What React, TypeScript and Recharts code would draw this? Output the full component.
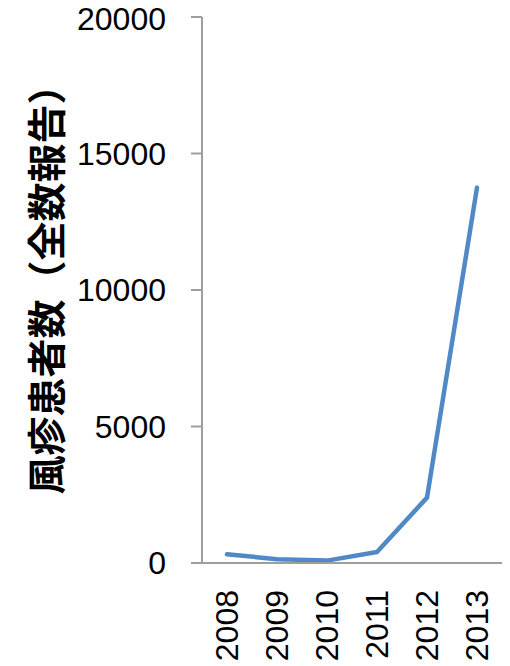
import { LineChart, Line, XAxis, YAxis, Label } from "recharts";

// 風疹の年別報告数
const years = ["2008", "2009", "2010", "2011", "2012", "2013"];
const cases = [320, 140, 88, 400, 2395, 13750];
const yTicks = [0, 5000, 10000, 15000, 20000];

// place each year in the middle of its band so tick marks fall between categories
const data = years.map((year, i) => ({ year, pos: i + 0.5, cases: cases[i] }));
const labelTicks = data.map((d) => d.pos);
const boundTicks = years.map((_, i) => i).concat(years.length);

const AXIS = "#9e9e9e";
const NUM_FONT = "'Liberation Sans', Arial, sans-serif";

const YearTick = (props: any) => {
  const { x, y, payload } = props;
  const label = years[Math.floor(payload.value)];
  return (
    <text
      x={x}
      y={y}
      transform={`rotate(-90, ${x}, ${y})`}
      textAnchor="end"
      dominantBaseline="central"
      fontSize={32}
      fontFamily={NUM_FONT}
      fill="#000"
    >
      {label}
    </text>
  );
};

const AxisTitle = (props: any) => {
  const vb = props.viewBox;
  const cx = vb.x + 44;
  // trailing full-width paren carries extra space, nudge up to centre the glyphs
  const cy = vb.y + vb.height / 2 - 10;
  return (
    <text
      x={cx}
      y={cy}
      transform={`rotate(-90, ${cx}, ${cy})`}
      textAnchor="middle"
      dominantBaseline="central"
      fontSize={39}
      fontWeight="bold"
      fontFamily="'Noto Sans CJK JP', sans-serif"
      fill="#000"
    >
      風疹患者数（全数報告）
    </text>
  );
};

export default function App() {
  return (
    <div style={{ position: "absolute", left: 0, top: 0, background: "#fff" }}>
      <LineChart width={510} height={666} data={data} margin={{ top: 17, right: 8, bottom: 0, left: 0 }}>
        <XAxis
          xAxisId="bounds"
          type="number"
          domain={[0, years.length]}
          ticks={boundTicks}
          tick={false}
          tickSize={11}
          tickLine={{ stroke: AXIS, strokeWidth: 2 }}
          axisLine={false}
          height={0}
          allowDataOverflow
        />
        <XAxis
          type="number"
          dataKey="pos"
          domain={[0, years.length]}
          ticks={labelTicks}
          tick={<YearTick />}
          tickLine={false}
          tickSize={0}
          tickMargin={27}
          axisLine={{ stroke: AXIS, strokeWidth: 2 }}
          height={103}
        />
        <YAxis
          domain={[0, 20000]}
          ticks={yTicks}
          width={202}
          tickSize={11}
          tickMargin={25}
          tickLine={{ stroke: AXIS, strokeWidth: 2 }}
          axisLine={{ stroke: AXIS, strokeWidth: 2 }}
          tick={{ fontSize: 32, fontFamily: NUM_FONT, fill: "#000" }}
        >
          <Label content={<AxisTitle />} />
        </YAxis>
        <Line
          type="linear"
          dataKey="cases"
          stroke="#5089c6"
          strokeWidth={4.5}
          strokeLinecap="round"
          strokeLinejoin="round"
          dot={false}
          isAnimationActive={false}
        />
      </LineChart>
    </div>
  );
}
